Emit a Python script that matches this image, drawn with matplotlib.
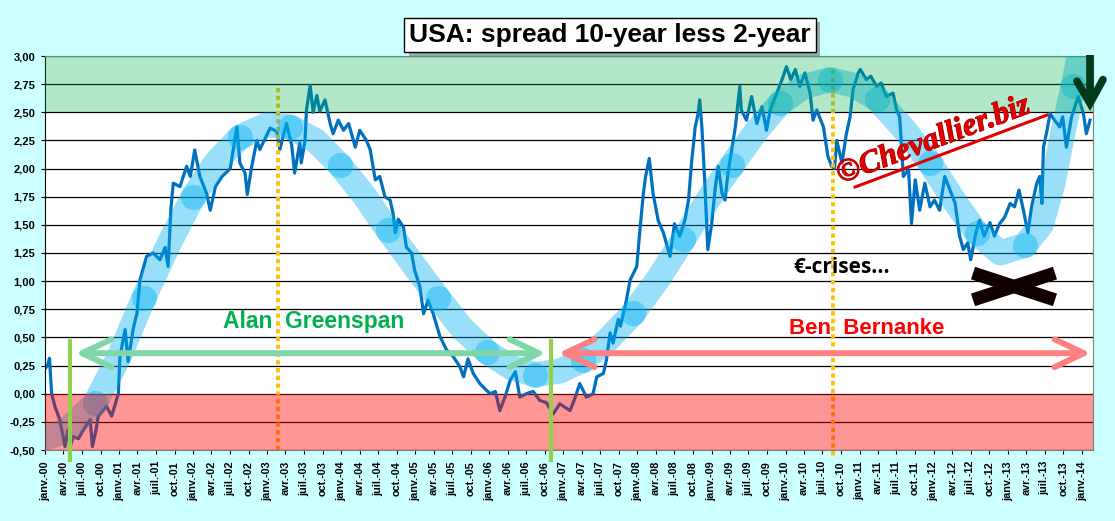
import numpy as np
import pandas as pd
import matplotlib
matplotlib.use('Agg')
from matplotlib import pyplot as plt
import matplotlib.dates as mdates
import matplotlib.patheffects as pe

# spread 10y - 2y (decimal year, %)
spread_t = [
    2000.01, 2000.04, 2000.06, 2000.09, 2000.135, 2000.2, 2000.27, 2000.31, 2000.34, 2000.38,
    2000.45, 2000.52, 2000.61, 2000.64, 2000.68, 2000.72, 2000.83, 2000.9, 2000.99, 2001.01,
    2001.08, 2001.12, 2001.19, 2001.24, 2001.28, 2001.37, 2001.46, 2001.55, 2001.62, 2001.66,
    2001.70, 2001.73, 2001.82, 2001.91, 2001.96, 2002.02, 2002.09, 2002.18, 2002.23, 2002.30,
    2002.39, 2002.5, 2002.59, 2002.63, 2002.70, 2002.73, 2002.79, 2002.86, 2002.90, 2003.04,
    2003.13, 2003.17, 2003.26, 2003.33, 2003.37, 2003.44, 2003.46, 2003.51, 2003.53, 2003.58,
    2003.62, 2003.67, 2003.71, 2003.78, 2003.85, 2003.89, 2003.96, 2004.03, 2004.10, 2004.19,
    2004.25, 2004.34, 2004.39, 2004.46, 2004.52, 2004.59, 2004.66, 2004.70, 2004.73, 2004.77,
    2004.84, 2004.88, 2004.95, 2004.99, 2005.06, 2005.11, 2005.17, 2005.24, 2005.33, 2005.42,
    2005.51, 2005.60, 2005.65, 2005.71, 2005.78, 2005.87, 2005.96, 2006.01, 2006.08, 2006.14,
    2006.21, 2006.28, 2006.35, 2006.41, 2006.50, 2006.59, 2006.68, 2006.77, 2006.86, 2006.95,
    2007.09, 2007.16, 2007.22, 2007.31, 2007.40, 2007.45, 2007.54, 2007.58, 2007.63, 2007.67,
    2007.74, 2007.77, 2007.85, 2007.90, 2007.99, 2008.03, 2008.08, 2008.11, 2008.16, 2008.21,
    2008.28, 2008.35, 2008.44, 2008.50, 2008.57, 2008.64, 2008.69, 2008.73, 2008.78, 2008.82,
    2008.84, 2008.87, 2008.91, 2008.95, 2009.00, 2009.05, 2009.09, 2009.14, 2009.18, 2009.22,
    2009.29, 2009.32, 2009.38, 2009.40, 2009.47, 2009.54, 2009.61, 2009.68, 2009.74, 2009.79,
    2009.88, 2009.95, 2010.01, 2010.07, 2010.13, 2010.19, 2010.26, 2010.33, 2010.37, 2010.42,
    2010.51, 2010.57, 2010.62, 2010.66, 2010.69, 2010.76, 2010.82, 2010.87, 2010.91, 2010.98,
    2011.01, 2011.09, 2011.15, 2011.23, 2011.29, 2011.36, 2011.45, 2011.50, 2011.54, 2011.59,
    2011.66, 2011.70, 2011.75, 2011.81, 2011.88, 2011.95, 2012.01, 2012.08, 2012.15, 2012.22,
    2012.29, 2012.35, 2012.40, 2012.46, 2012.50, 2012.57, 2012.62, 2012.68, 2012.76, 2012.82,
    2012.89, 2012.96, 2013.03, 2013.09, 2013.15, 2013.21, 2013.27, 2013.32, 2013.39, 2013.43,
    2013.46, 2013.48, 2013.52, 2013.57, 2013.63, 2013.70, 2013.74, 2013.79, 2013.86, 2013.95,
    2014.02, 2014.06, 2014.11,
]
spread_v = [
    0.23, 0.26, 0.315, 0.00, -0.115, -0.23, -0.47, -0.32, -0.47, -0.38,
    -0.40, -0.32, -0.23, -0.47, -0.35, -0.20, -0.11, -0.20, 0.00, 0.33,
    0.57, 0.285, 0.58, 0.715, 1.01, 1.22, 1.25, 1.19, 1.30, 1.13,
    1.66, 1.87, 1.84, 2.02, 1.93, 2.165, 1.93, 1.78, 1.63, 1.84,
    1.93, 2.00, 2.37, 2.05, 1.96, 1.77, 2.02, 2.25, 2.17, 2.36,
    2.33, 2.17, 2.40, 2.21, 1.96, 2.23, 2.05, 2.25, 2.52, 2.74,
    2.50, 2.65, 2.51, 2.61, 2.40, 2.31, 2.43, 2.34, 2.40, 2.19,
    2.34, 2.25, 2.17, 1.90, 1.93, 1.75, 1.72, 1.60, 1.43, 1.55,
    1.48, 1.30, 1.25, 1.10, 0.95, 0.71, 0.83, 0.71, 0.51, 0.39,
    0.33, 0.24, 0.15, 0.31, 0.18, 0.09, 0.03, 0.00, 0.02, -0.15,
    -0.03, 0.12, 0.195, -0.03, 0.00, 0.02, -0.06, -0.08, -0.18, -0.09,
    -0.15, -0.03, 0.09, -0.03, 0.00, 0.15, 0.18, 0.30, 0.54, 0.45,
    0.66, 0.60, 0.83, 1.01, 1.13, 1.43, 1.78, 1.93, 2.09, 1.78,
    1.54, 1.43, 1.22, 1.51, 1.40, 1.54, 1.72, 2.05, 2.37, 2.49,
    2.61, 2.37, 1.87, 1.28, 1.51, 1.84, 2.02, 1.78, 1.72, 1.96,
    2.25, 2.37, 2.73, 2.52, 2.43, 2.64, 2.40, 2.55, 2.34, 2.52,
    2.67, 2.79, 2.905, 2.79, 2.88, 2.73, 2.85, 2.67, 2.43, 2.52,
    2.37, 2.11, 2.02, 2.00, 2.25, 2.05, 2.31, 2.46, 2.70, 2.85,
    2.88, 2.79, 2.82, 2.73, 2.76, 2.64, 2.67, 2.52, 2.46, 1.93,
    1.99, 1.51, 1.90, 1.63, 1.87, 1.66, 1.72, 1.63, 1.93, 1.81,
    1.69, 1.40, 1.28, 1.34, 1.19, 1.43, 1.54, 1.40, 1.52, 1.40,
    1.51, 1.57, 1.69, 1.66, 1.81, 1.63, 1.43, 1.66, 1.87, 1.93,
    1.69, 2.19, 2.31, 2.49, 2.43, 2.37, 2.46, 2.19, 2.46, 2.64,
    2.49, 2.31, 2.43,
]

# hand drawn "cycle" band and its bubbles
trend_t = [2000.0, 2000.3, 2000.68, 2001.0, 2001.33, 2001.67, 2002.0, 2002.3, 2002.63, 2003.0,
           2003.31, 2003.65, 2003.98, 2004.3, 2004.63, 2004.97, 2005.31, 2005.63, 2005.96, 2006.3,
           2006.62, 2006.95, 2007.27, 2007.6, 2007.94, 2008.28, 2008.62, 2008.95, 2009.27, 2009.6,
           2009.92, 2010.25, 2010.6, 2010.92, 2011.23, 2011.6, 2011.95, 2012.27, 2012.58, 2012.9,
           2013.23, 2013.45, 2013.61, 2013.74, 2013.88, 2013.98]
trend_v = [-0.40, -0.32, -0.08, 0.33, 0.85, 1.33, 1.75, 2.05, 2.28, 2.39,
           2.37, 2.25, 2.03, 1.77, 1.455, 1.15, 0.85, 0.58, 0.375, 0.23,
           0.17, 0.20, 0.30, 0.48, 0.715, 1.02, 1.37, 1.72, 2.03, 2.33,
           2.58, 2.73, 2.79, 2.74, 2.62, 2.35, 2.05, 1.72, 1.43, 1.25,
           1.32, 1.50, 1.87, 2.31, 2.73, 3.05]
bubble_t = [2000.68, 2001.33, 2002.0, 2002.63, 2003.31, 2003.98, 2004.63, 2005.31, 2005.96, 2006.62,
            2007.27, 2007.94, 2008.62, 2009.27, 2009.92, 2010.60, 2011.23, 2011.95, 2012.58, 2013.23,
            2013.88]
bubble_v = [-0.08, 0.85, 1.75, 2.28, 2.37, 2.03, 1.455, 0.85, 0.375, 0.17,
            0.30, 0.715, 1.37, 2.03, 2.58, 2.79, 2.62, 2.05, 1.43, 1.32,
            2.73]

# events
dotted_t = [2003.15, 2010.64]
dotted_top = [2.72, 2.88]
chair_t = [2000.34, 2006.83]
greenspan_span = (2000.41, 2006.76)
bernanke_span = (2006.93, 2014.12)
arrow_level = 0.36

month_fr = {1: 'janv.', 4: 'avr.', 7: 'juil.', 10: 'oct.'}
y_ticks = np.arange(-0.5, 3.01, 0.25)


def to_date(y):
    year = int(y)
    return mdates.date2num(pd.Timestamp(year=year, month=1, day=1) + pd.Timedelta(days=(y - year) * 365.25))


def to_dates(ys):
    return [to_date(y) for y in ys]


plt.rcParams['font.family'] = ['Liberation Sans', 'DejaVu Sans']

fig = plt.figure(figsize=(11.15, 5.21), dpi=100)
fig.patch.set_facecolor('#CCFFFF')
ax = fig.add_axes([45 / 1115, 71 / 521, 1048 / 1115, 394 / 521])
ax.set_facecolor('white')

ax.plot(to_dates(spread_t), spread_v, color='#0070C0', lw=2.3, zorder=2, solid_joinstyle='round')

for t, top, bottom in zip(dotted_t, dotted_top, [-0.5, -0.57]):
    ax.plot([to_date(t)] * 2, [top, bottom], color='#FFC000', lw=2.8,
            linestyle=(0, (1.1, 0.9)), zorder=2.5, clip_on=False)

ax.plot(to_dates(trend_t), trend_v, color='#00B0F0', alpha=0.4, lw=18,
        solid_capstyle='round', solid_joinstyle='round', zorder=3)
ax.scatter(to_dates(bubble_t), bubble_v, s=330, color='#00B0F0', alpha=0.4, lw=0, zorder=3.1)

ax.axhspan(2.5, 3.0, color='#00B050', alpha=0.3, lw=0, zorder=4)
ax.axhspan(-0.5, 0.0, color='#FF0000', alpha=0.41, lw=0, zorder=4)

for t in chair_t:
    ax.plot([to_date(t)] * 2, [0.49, -0.61], color='#92D050', lw=3, zorder=5,
            clip_on=False, solid_capstyle='butt')

for (a, b), col in [(greenspan_span, '#7FD7A7'), (bernanke_span, '#FF8080')]:
    ax.annotate('', xy=(to_date(b), arrow_level), xytext=(to_date(a), arrow_level),
                arrowprops=dict(arrowstyle='<->,head_length=21,head_width=10', mutation_scale=1,
                                color=col, lw=4.3, shrinkA=0, shrinkB=0,
                                capstyle='round', joinstyle='round'),
                zorder=5, annotation_clip=False)

ax.text(0.2567, 0.325, 'Alan  Greenspan', transform=ax.transAxes, color='#00B050',
        fontsize=16.5, fontweight='bold', ha='center', va='center', zorder=6)
ax.text(0.784, 0.3096, 'Ben  Bernanke', transform=ax.transAxes, color='#FF0000',
        fontsize=16, fontweight='bold', ha='center', va='center', zorder=6)
ax.text(0.7605, 0.462, '€-crises...', transform=ax.transAxes, color='black',
        fontsize=15, fontweight='bold', ha='center', va='center', zorder=6,
        family=['Open Sans', 'DejaVu Sans'])

# black cross
ax.plot([0.8855, 0.9637], [0.449, 0.381], transform=ax.transAxes, color='#110000', lw=9.5,
        solid_capstyle='butt', zorder=6)
ax.plot([0.8855, 0.9637], [0.381, 0.449], transform=ax.transAxes, color='#110000', lw=9.5,
        solid_capstyle='butt', zorder=6)

# down arrow top right
ax.plot([0.9971, 0.9971], [1.0025, 0.885], transform=ax.transAxes, color='#003A1A', lw=5.5,
        solid_capstyle='butt', zorder=6, clip_on=False)
ax.plot([0.9847, 0.9971, 1.0095], [0.936, 0.88, 0.94], transform=ax.transAxes, color='#003A1A',
        lw=5.5, solid_capstyle='round', solid_joinstyle='miter', zorder=6, clip_on=False)

# watermark
ax.text(0.848, 0.785, '©Chevallier.biz', transform=ax.transAxes, color='#E00000',
        fontsize=23, fontstyle='italic', fontweight='bold',
        family=['Liberation Serif', 'DejaVu Serif'],
        rotation=20.5, rotation_mode='anchor', ha='center', va='center', zorder=6,
        path_effects=[pe.withStroke(linewidth=0.8, foreground='#A00000')])
ax.plot([0.773, 0.956], [0.6675, 0.850], transform=ax.transAxes, color='#E00000', lw=2.2, zorder=6)

ax.set_xlim(to_date(2000.0), to_date(2014.15))
ax.set_ylim(-0.5, 3.0)
ax.set_yticks(y_ticks)
ax.set_yticklabels([f'{v:.2f}'.replace('.', ',') for v in y_ticks])
quarters = pd.date_range('2000-01-01', '2014-01-01', freq='QS')
ax.set_xticks(mdates.date2num(quarters))
ax.set_xticklabels([f'{month_fr[d.month]}-{d.year % 100:02d}' for d in quarters], rotation=90)
ax.tick_params(axis='x', labelsize=7.8, length=3, pad=5, direction='out')
ax.tick_params(axis='y', labelsize=8, length=3, pad=4, direction='out')
for lab in ax.get_xticklabels() + ax.get_yticklabels():
    lab.set_fontweight('bold')

ax.grid(axis='y', color='black', lw=0.9, zorder=0.5)
ax.set_axisbelow(True)
for side in ['top', 'right', 'bottom']:
    ax.spines[side].set_color('#808080')
ax.spines['left'].set_color('black')

title = fig.text(610 / 1115, 1 - 35 / 521, 'USA: spread 10-year less 2-year', fontsize=19,
                 fontweight='bold', ha='center', va='center',
                 bbox=dict(boxstyle='square,pad=0.18', facecolor='white', edgecolor='black', lw=1))
title.get_bbox_patch().set_path_effects([
    pe.SimplePatchShadow(offset=(3, -3), shadow_rgbFace='#707070', alpha=0.6), pe.Normal()])

fig.savefig('out.png', dpi=100, facecolor=fig.get_facecolor())
